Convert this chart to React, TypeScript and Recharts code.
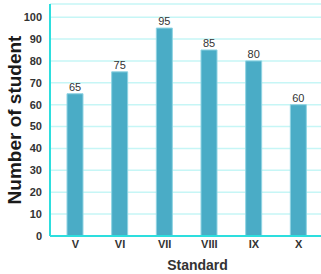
import React from "react"
import {
  BarChart,
  Bar,
  XAxis,
  YAxis,
  CartesianGrid,
  LabelList,
} from "recharts"

// standards on the x axis and student counts
const standards: string[] = ["V", "VI", "VII", "VIII", "IX", "X"]
const students: number[] = [65, 75, 95, 85, 80, 60]
const yTicks: number[] = [0, 10, 20, 30, 40, 50, 60, 70, 80, 90, 100]

const data = standards.map((s, i) => ({ standard: s, students: students[i] }))

const font = "'Liberation Sans', Arial, sans-serif"

if (typeof document !== "undefined") document.body.style.margin = "0"

export default function App() {
  return (
    <div style={{ width: 321, height: 274, background: "#fff" }}>
      <BarChart
        width={321}
        height={274}
        data={data}
        margin={{ top: 4, right: 0, left: 0, bottom: 0 }}
        style={{ fontFamily: font }}
      >
        <CartesianGrid
          vertical={false}
          stroke="#c6f6f6"
          strokeWidth={1.5}
        />
        <XAxis
          dataKey="standard"
          height={38}
          padding={{ left: 3, right: 0 }}
          tickLine={false}
          tickSize={2}
          tickMargin={2}
          axisLine={{ stroke: "#2ddede", strokeWidth: 2 }}
          tick={{ fontSize: 11, fill: "#333", fontWeight: 600 }}
          label={{
            value: "Standard",
            position: "insideBottom",
            offset: 4,
            dx: 12,
            style: { fontSize: 14, fontWeight: 700, fill: "#333" },
          }}
        />
        <YAxis
          width={50}
          domain={[0, 106]}
          ticks={yTicks}
          interval={0}
          tickLine={false}
          axisLine={{ stroke: "#2ddede", strokeWidth: 2 }}
          tick={{ fontSize: 11, fill: "#333", fontWeight: 600 }}
          label={{
            value: "Number of student",
            angle: -90,
            position: "center",
            dx: -11,
            style: { fontSize: 19, fontWeight: 700, fill: "#1a1a1a" },
          }}
        />
        <Bar
          dataKey="students"
          fill="#4aacc6"
          stroke="#8fd3e3"
          strokeWidth={1}
          barSize={16}
          isAnimationActive={false}
        >
          <LabelList
            dataKey="students"
            position="top"
            offset={3}
            style={{ fontSize: 11, fill: "#333" }}
          />
        </Bar>
      </BarChart>
    </div>
  )
}
